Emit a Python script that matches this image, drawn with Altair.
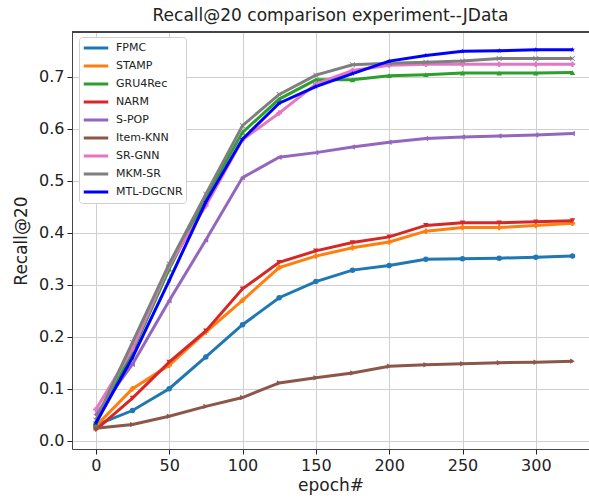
import altair as alt
import pandas as pd

epochs = [0, 25, 50, 75, 100, 125, 150, 175, 200, 225, 250, 275, 300, 325]

series_names = ["FPMC", "STAMP", "GRU4Rec", "NARM", "S-POP", "Item-KNN", "SR-GNN", "MKM-SR", "MTL-DGCNR"]
series_colors = ["#1f77b4", "#ff7f0e", "#2ca02c", "#d62728", "#9467bd", "#8c564b", "#e377c2", "#7f7f7f", "#0000ff"]

fpmc = [0.030, 0.058, 0.100, 0.161, 0.223, 0.275, 0.306, 0.328, 0.337, 0.349, 0.350, 0.351, 0.353, 0.355]
stamp = [0.028, 0.100, 0.145, 0.209, 0.270, 0.333, 0.355, 0.371, 0.382, 0.403, 0.410, 0.410, 0.414, 0.418]
gru4rec = [0.032, 0.172, 0.330, 0.468, 0.593, 0.657, 0.694, 0.694, 0.702, 0.704, 0.707, 0.707, 0.707, 0.708]
narm = [0.021, 0.082, 0.151, 0.211, 0.292, 0.343, 0.365, 0.381, 0.392, 0.414, 0.419, 0.419, 0.421, 0.423]
spop = [0.050, 0.147, 0.269, 0.386, 0.506, 0.545, 0.554, 0.565, 0.574, 0.581, 0.584, 0.586, 0.588, 0.591]
itemknn = [0.024, 0.031, 0.047, 0.066, 0.083, 0.111, 0.121, 0.130, 0.143, 0.146, 0.148, 0.150, 0.151, 0.153]
srgnn = [0.060, 0.176, 0.337, 0.452, 0.579, 0.630, 0.686, 0.712, 0.722, 0.724, 0.724, 0.724, 0.724, 0.724]
mkmsr = [0.040, 0.189, 0.340, 0.474, 0.606, 0.666, 0.703, 0.723, 0.726, 0.728, 0.730, 0.735, 0.735, 0.735]
mtl = [0.034, 0.160, 0.308, 0.459, 0.580, 0.649, 0.681, 0.706, 0.730, 0.741, 0.749, 0.750, 0.752, 0.752]

all_values = [fpmc, stamp, gru4rec, narm, spop, itemknn, srgnn, mkmsr, mtl]

star = "M0,-1L0.2245,-0.309L0.951,-0.309L0.363,0.118L0.588,0.809L0,0.382L-0.588,0.809L-0.363,0.118L-0.951,-0.309L-0.2245,-0.309Z"
xmark = "M-0.8,-1L0,-0.2L0.8,-1L1,-0.8L0.2,0L1,0.8L0.8,1L0,0.2L-0.8,1L-1,0.8L-0.2,0L-1,-0.8Z"
series_shapes = ["circle", "cross", "triangle-up", "triangle-down", "triangle-left", "triangle-right", "cross", xmark, star]

rows = []
for name, vals in zip(series_names, all_values):
    for e, v in zip(epochs, vals):
        rows.append({"epoch": e, "recall": v, "method": name})
df = pd.DataFrame(rows)

W = 517
H = 417

xscale = alt.Scale(domain=[-16.25, 336.25], nice=False, zero=False)
yscale = alt.Scale(domain=[-0.016, 0.786], nice=False, zero=False)
color = alt.Color(
    "method:N",
    scale=alt.Scale(domain=series_names, range=series_colors),
    legend=alt.Legend(
        title=None,
        orient="none",
        legendX=7,
        legendY=5,
        symbolType="stroke",
        symbolStrokeWidth=3,
        symbolSize=600,
        clipHeight=16,
        labelFontSize=11,
        labelFont="DejaVu Sans",
        labelColor="#222222",
        rowPadding=2,
        padding=3,
        fillColor="white",
        strokeColor="#d0d0d0",
        cornerRadius=3,
        labelOffset=6,
    ),
)

x_enc = alt.X(
    "epoch:Q",
    scale=xscale,
    axis=alt.Axis(
        values=[0, 50, 100, 150, 200, 250, 300],
        title="epoch#",
        titleFontSize=17,
        titleFontWeight="normal",
        titleFont="DejaVu Sans",
        titleColor="#222222",
        labelFontSize=16,
        labelFont="DejaVu Sans",
        labelColor="#222222",
        labelPadding=3,
        titlePadding=4,
        tickSize=5,
        tickColor="#222222",
        domainColor="#444444",
        gridColor="#cfcfcf",
        grid=True,
    ),
)
y_enc = alt.Y(
    "recall:Q",
    scale=yscale,
    axis=alt.Axis(
        values=[0.0, 0.1, 0.2, 0.3, 0.4, 0.5, 0.6, 0.7],
        format=".1f",
        title="Recall@20",
        titleFontSize=17,
        titleFontWeight="normal",
        titleFont="DejaVu Sans",
        titleColor="#222222",
        labelFontSize=16,
        labelFont="DejaVu Sans",
        labelColor="#222222",
        labelPadding=3,
        titlePadding=8,
        tickSize=5,
        tickColor="#222222",
        domainColor="#444444",
        gridColor="#cfcfcf",
        grid=True,
    ),
)

layers = []
for name, col, shp in zip(series_names, series_colors, series_shapes):
    sub = df[df["method"] == name]
    line = alt.Chart(sub).mark_line(strokeWidth=3, clip=True).encode(
        x=x_enc, y=y_enc, color=color
    )
    pts = alt.Chart(sub).mark_point(
        filled=True, size=30, opacity=1, clip=True, shape=shp, color=col
    ).encode(
        x=alt.X("epoch:Q", scale=xscale),
        y=alt.Y("recall:Q", scale=yscale),
    )
    layers.append(line)
    layers.append(pts)

top_border = alt.Chart(df).mark_rule(color="#444444", strokeWidth=1).encode(
    x=alt.value(0), x2=alt.value(W), y=alt.value(0)
)
layers.append(top_border)

chart = (
    alt.layer(*layers)
    .properties(
        width=W,
        height=H,
        title=alt.TitleParams(
            "Recall@20 comparison experiment--JData",
            fontSize=17,
            font="DejaVu Sans",
            fontWeight="normal",
            color="#222222",
            offset=7,
            anchor="middle",
        ),
        autosize=alt.AutoSizeParams(type="none"),
        padding={"left": 72, "top": 32, "right": 0, "bottom": 52},
    )
    .configure_view(stroke=None)
    .configure(background="white")
)

chart.save("out.html", embed_options={"renderer": "svg", "actions": False})
